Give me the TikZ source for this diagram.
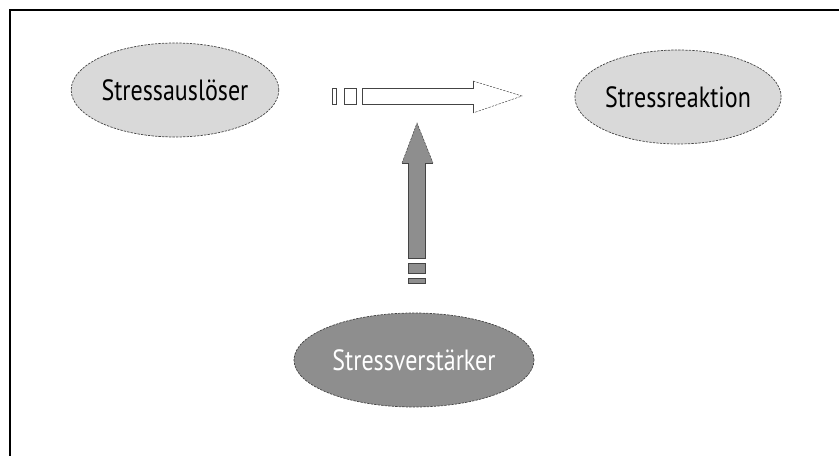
\documentclass[tikz,border=0pt]{standalone}
\usepackage{fontspec}
\setmainfont[FakeStretch=0.82]{PT Sans}
\usepackage{tikz}
\usetikzlibrary{arrows, positioning, shapes.geometric}

\definecolor{lightfill}{HTML}{D9D9D9}
\definecolor{darkfill}{HTML}{8E8E8E}
\definecolor{rim}{HTML}{444444}

\begin{document}
\begin{tikzpicture}[x=0.03cm, y=-0.03cm,
	every node/.style={font=\fontsize{25}{27}\selectfont},
	blob/.style={draw=rim, dash pattern=on 2pt off 1pt, semithick, ellipse, fill=lightfill, inner sep=0pt,
		minimum width=5.7cm, minimum height=2.82cm}]

\useasboundingbox (0,0) rectangle (839,456);
\draw [line width=1pt] (10,456) -- (10,10) -- (839,10);

\node [blob] (trigger) at (175,90) {Stressausl\"oser};

\node [blob] (reaction) at (678,97) {Stressreaktion};

\node [blob, fill=darkfill, text=white, minimum width=7.2cm] (amp) at (414,360) {Stressverst\"arker};

% open arrow between trigger and reaction
\draw [rim, thin] (332,88) rectangle (336,104);
\draw [rim, thin] (344,88) rectangle (356,104);
\draw [rim, thin] (473,81) -- (473,88) -- (362,88) -- (362,104) -- (473,104) -- (473,113);
\draw [rim, thin, dash pattern=on 2pt off 1pt] (473,81) -- (522,96) -- (473,113);

% filled arrow from the amplifier
\fill [darkfill] (408,258) -- (408,163) -- (402,163) -- (417,123) -- (433,163) -- (425,163) -- (425,258) -- cycle;
\draw [rim, thin] (402,163) -- (408,163) -- (408,258) -- (425,258) -- (425,163) -- (433,163);
\draw [rim, thin, dash pattern=on 2pt off 1pt] (402,163) -- (417,123) -- (433,163);
\draw [rim, thin, fill=darkfill] (408,263) rectangle (425,273);
\draw [rim, thin, fill=darkfill] (408,278) rectangle (425,283);

\end{tikzpicture}
\end{document}
